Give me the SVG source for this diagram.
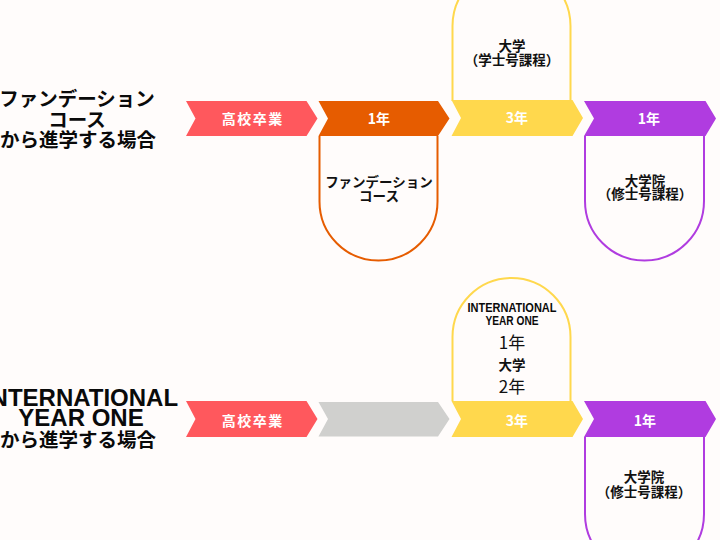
<svg xmlns="http://www.w3.org/2000/svg" width="720" height="540" viewBox="0 0 720 540">
<defs>
<style>
.jp{font-family:"Noto Sans CJK JP","Noto Sans",sans-serif;text-anchor:middle}
.b{font-weight:700}
.w{fill:#ffffff}
.k{fill:#111111}
.title{font-size:19.5px;font-weight:700;fill:#0a0a0a}
.lat{font-family:"Liberation Sans","Noto Sans CJK JP",sans-serif;font-weight:700;text-anchor:middle;fill:#0a0a0a}
.chev{font-size:14px;font-weight:700;fill:#ffffff}
.box{fill:#fffcfb;stroke-width:2}
.sm{font-size:13.5px;font-weight:700;fill:#111111}
</style>
</defs>
<rect width="720" height="540" fill="#fffcfb"/>

<g id="title-foundation">
<text class="jp title" x="77" y="106">ファンデーション</text>
<text class="jp title" x="77" y="126.5">コース</text>
<text class="jp title" x="78" y="147">から進学する場合</text>
</g>

<g id="title-iyo">
<text class="lat" font-size="24" x="81" y="405.7">INTERNATIONAL</text>
<text class="lat" font-size="24" x="81" y="425.7">YEAR ONE</text>
<text class="jp title" x="78" y="446.5">から進学する場合</text>
</g>

<!-- Row 1 boxes -->
<g id="box-foundation">
<path class="box" stroke="#e65c00" d="M319.5,136 V201.5 A59,59 0 0 0 437.5,201.5 V136"/>
<text class="jp sm" x="379" y="187">ファンデーション</text>
<text class="jp sm" x="379" y="200.5">コース</text>
</g>
<g id="box-university-1">
<path class="box" stroke="#ffd84d" d="M452.5,101 V26 A59,59 0 0 1 570.5,26 V101"/>
<text class="jp sm" x="512" y="50.5">大学</text>
<text class="jp sm" x="512" y="65">（学士号課程）</text>
</g>
<g id="box-graduate-1">
<path class="box" stroke="#b03ce0" d="M585,136 V201 A59.5,59.5 0 0 0 704,201 V136"/>
<text class="jp sm" x="645" y="185.5">大学院</text>
<text class="jp sm" x="645" y="199">（修士号課程）</text>
</g>

<!-- Row 1 chevrons -->
<g id="chev-hs-1">
<polygon fill="#ff585d" points="186,101 306.5,101 317.5,118.5 306.5,136 186,136 195.5,118.5"/>
<text class="jp chev" x="252.7" y="123.5" font-size="14.5" letter-spacing="1.5">高校卒業</text>
</g>
<g id="chev-foundation-1">
<polygon fill="#e65c00" points="318.5,101 438,101 449.5,118.5 438,136 318.5,136 328,118.5"/>
<text class="jp chev" x="379" y="123.5">1年</text>
</g>
<g id="chev-univ-1">
<polygon fill="#ffd84d" points="451.5,100 572.5,100 583,118 572.5,136 451.5,136 461,118"/>
<text class="jp chev" x="517" y="123">3年</text>
</g>
<g id="chev-grad-1">
<polygon fill="#b03ce0" points="584,101 705.5,101 716,118.5 705.5,136 584,136 594,118.5"/>
<text class="jp chev" x="649" y="123.5">1年</text>
</g>

<!-- Row 2 boxes -->
<g id="box-iyo">
<path class="box" stroke="#ffd84d" d="M452.5,401 V337 A59,59 0 0 1 570.5,337 V401"/>
<text class="lat" font-size="13.5" x="512" y="312.3" textLength="89" lengthAdjust="spacingAndGlyphs">INTERNATIONAL</text>
<text class="lat" font-size="13.5" x="512" y="325" textLength="53" lengthAdjust="spacingAndGlyphs">YEAR ONE</text>
<text class="jp k" font-size="17" x="512" y="349">1年</text>
<text class="jp sm" font-size="14" x="512" y="370">大学</text>
<text class="jp k" font-size="17" x="512" y="393">2年</text>
</g>
<g id="box-graduate-2">
<path class="box" stroke="#b03ce0" d="M585,437 V514 A59.5,59.5 0 0 0 704,514 V437"/>
<text class="jp sm" x="644" y="482">大学院</text>
<text class="jp sm" x="644" y="497">（修士号課程）</text>
</g>

<!-- Row 2 chevrons -->
<g id="chev-hs-2">
<polygon fill="#ff585d" points="186,401 306.5,401 317.5,419 306.5,437 186,437 195.5,419"/>
<text class="jp chev" x="252.7" y="425.5" font-size="14.5" letter-spacing="1.5">高校卒業</text>
</g>
<g id="chev-iyo-2">
<polygon fill="#d0d0ce" points="318.5,402 438,402 449.5,419 438,436.5 318.5,436.5 328,419"/>
</g>
<g id="chev-univ-2">
<polygon fill="#ffd84d" points="451.5,401 572.5,401 583,419 572.5,437 451.5,437 461,419"/>
<text class="jp chev" x="517" y="426">3年</text>
</g>
<g id="chev-grad-2">
<polygon fill="#b03ce0" points="584,401 705.5,401 716,419 705.5,437 584,437 594,419"/>
<text class="jp chev" x="645" y="426">1年</text>
</g>
</svg>
